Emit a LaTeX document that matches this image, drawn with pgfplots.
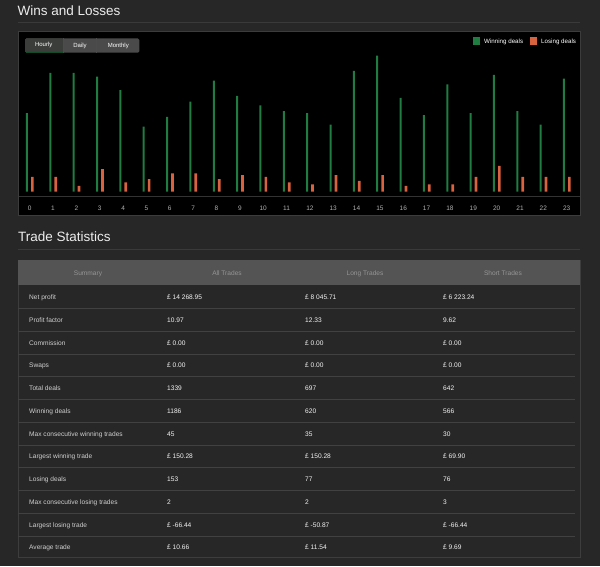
\documentclass[border=0pt]{standalone}
\usepackage{pgfplots}
\pgfplotsset{compat=1.18}
\usepackage{fontspec}
\setmainfont{Liberation Sans}
\definecolor{pagebg}{HTML}{272727}
\definecolor{titlewhite}{HTML}{EDEDED}
\definecolor{ruleline}{HTML}{3A3A3A}
\definecolor{boxborder}{HTML}{3C3C3C}
\definecolor{sepline}{HTML}{333333}
\definecolor{tickgray}{HTML}{B0B0B0}
\definecolor{wingreen}{HTML}{1F7D42}
\definecolor{loseorange}{HTML}{D9633F}
\definecolor{btndark}{HTML}{3A3D3A}
\definecolor{btnlight}{HTML}{4A4A4A}
\definecolor{hdrfill}{HTML}{545454}
\definecolor{hdrtext}{HTML}{959595}
\definecolor{lbltext}{HTML}{D0D0D0}
\definecolor{valtext}{HTML}{F5F5F5}
\definecolor{rowline}{HTML}{414141}
\definecolor{tblborder}{HTML}{3D3D3D}
\newcommand{\trow}[5]{%
  \pgfmathsetmacro{\yy}{-(297+22.75*#1)}%
  \node[lbl] at (29,\yy) {#2};
  \node[val] at (167,\yy) {#3};
  \node[val] at (305,\yy) {#4};
  \node[val] at (443,\yy) {#5};
}
\begin{document}
\begin{tikzpicture}[x=1pt,y=1pt,
  lbl/.style={anchor=mid west, inner sep=0pt, font=\fontsize{6.6}{8}\selectfont, text=lbltext},
  val/.style={anchor=mid west, inner sep=0pt, font=\fontsize{6.6}{8}\selectfont, text=valtext},
  hdr/.style={anchor=mid, inner sep=0pt, font=\fontsize{6.6}{8}\selectfont, text=hdrtext}]
\fill[pagebg] (0,0) rectangle (600,-566);
% ---- Wins and Losses title
\node[anchor=base west, inner sep=0pt, text=titlewhite, font=\fontsize{13.5}{16}\selectfont] at (17.5,-15.5) {Wins and Losses};
\draw[ruleline, line width=0.8pt] (18,-22) -- (580,-22);
% ---- chart box
\fill[boxborder] (17.5,-31) rectangle (581,-216);
\fill[black] (18.5,-32) rectangle (580,-215);
\draw[sepline, line width=0.8pt] (18.5,-196.7) -- (580,-196.7);
% buttons
\fill[btnlight, rounded corners=1.5pt] (25,-38.3) rectangle (139.3,-52.7);
\fill[btndark, rounded corners=1.5pt] (25,-38.3) rectangle (63.3,-52.7);
\draw[wingreen!60!black, line width=0.6pt] (25.5,-52.4) -- (63,-52.4);
\draw[black!70, line width=0.5pt] (63.3,-38.3) -- (63.3,-52.7);
\draw[black!70, line width=0.5pt] (96.7,-38.3) -- (96.7,-52.7);
\node[inner sep=0pt, font=\fontsize{6}{7}\selectfont, text=white] at (43.7,-45.2) {Hourly};
\node[inner sep=0pt, font=\fontsize{6}{7}\selectfont, text=white] at (80,-45.5) {Daily};
\node[inner sep=0pt, font=\fontsize{6}{7}\selectfont, text=white] at (118.3,-45.5) {Monthly};
% legend
\fill[wingreen] (472.7,-37.3) rectangle (480.2,-44.8);
\node[anchor=mid west, inner sep=0pt, font=\fontsize{6.2}{7}\selectfont, text=white] at (484,-41) {Winning deals};
\fill[loseorange] (529.5,-37.3) rectangle (537,-44.8);
\node[anchor=mid west, inner sep=0pt, font=\fontsize{6.2}{7}\selectfont, text=white] at (541,-41) {Losing deals};
% ---- the bar chart
\begin{axis}[
  at={(19pt,-191.7pt)}, anchor=south west,
  scale only axis, width=561pt, height=159.7pt,
  xmin=-0.458, xmax=23.57, ymin=0, ymax=83.3,
  axis line style={draw=none},
  ytick=\empty, xtick={0,...,23}, major tick length=0pt,
  /pgf/number format/assume math mode=true,
  xticklabel style={font=\fontsize{6.5}{7}\selectfont, text=tickgray, anchor=center, yshift=-16.3pt},
  clip=false]
\addplot[ybar, draw=none, fill=wingreen, bar width=2pt, bar shift=-2.7pt] coordinates {
(0,41) (1,62) (2,62) (3,60) (4,53) (5,34) (6,39) (7,47) (8,58) (9,50) (10,45) (11,42)
(12,41) (13,35) (14,63) (15,71) (16,49) (17,40) (18,56) (19,41) (20,61) (21,42) (22,35) (23,59)};
\addplot[ybar, draw=none, fill=loseorange, bar width=2.7pt, bar shift=2.7pt] coordinates {
(0,7.8) (1,7.8) (2,3) (3,11.8) (4,4.9) (5,6.6) (6,9.5) (7,9.5) (8,6.6) (9,8.7) (10,7.8) (11,4.9)
(12,3.8) (13,8.7) (14,5.6) (15,8.7) (16,3) (17,3.8) (18,3.8) (19,7.8) (20,13.5) (21,7.8) (22,7.8) (23,7.8)};
\end{axis}
% ---- Trade Statistics
\node[anchor=base west, inner sep=0pt, text=titlewhite, font=\fontsize{13.5}{16}\selectfont] at (18,-241.7) {Trade Statistics};
\draw[ruleline, line width=0.8pt] (18,-249.3) -- (580,-249.3);
\draw[tblborder, line width=0.8pt] (18,-260) rectangle (580,-557);
\fill[hdrfill] (18,-260) rectangle (579.5,-285);
\node[hdr] at (88,-272.5) {Summary};
\node[hdr] at (227,-272.5) {All Trades};
\node[hdr] at (365,-272.5) {Long Trades};
\node[hdr] at (503,-272.5) {Short Trades};
\foreach \k in {0,...,10} {
  \draw[rowline, line width=0.8pt] (18,{-(308.4+22.75*\k)}) -- (575,{-(308.4+22.75*\k)});
}
\trow{0}{Net profit}{£ 14 268.95}{£ 8 045.71}{£ 6 223.24}
\trow{1}{Profit factor}{10.97}{12.33}{9.62}
\trow{2}{Commission}{£ 0.00}{£ 0.00}{£ 0.00}
\trow{3}{Swaps}{£ 0.00}{£ 0.00}{£ 0.00}
\trow{4}{Total deals}{1339}{697}{642}
\trow{5}{Winning deals}{1186}{620}{566}
\trow{6}{Max consecutive winning trades}{45}{35}{30}
\trow{7}{Largest winning trade}{£ 150.28}{£ 150.28}{£ 69.90}
\trow{8}{Losing deals}{153}{77}{76}
\trow{9}{Max consecutive losing trades}{2}{2}{3}
\trow{10}{Largest losing trade}{£ -66.44}{£ -50.87}{£ -66.44}
\trow{11}{Average trade}{£ 10.66}{£ 11.54}{£ 9.69}
\end{tikzpicture}
\end{document}
